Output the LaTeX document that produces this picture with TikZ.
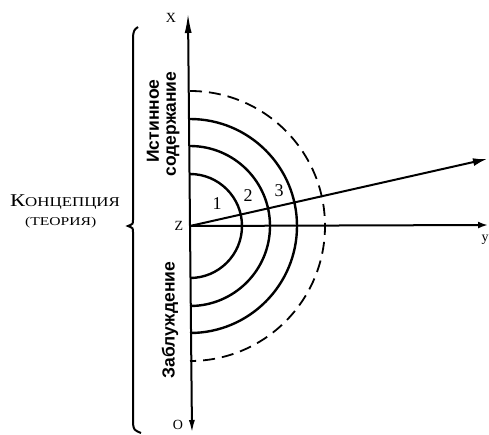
\documentclass[tikz,border=0pt]{standalone}
\usepackage{fontspec}
\setmainfont{Liberation Serif}
\newfontfamily\sansrot{Liberation Sans}
\usetikzlibrary{arrows.meta}
\begin{document}
\begin{tikzpicture}[x=1pt,y=1pt,
 axis/.style={line width=2pt},
 ring/.style={line width=2.4pt},
 dashring/.style={line width=1.8pt,dash pattern=on 12pt off 7pt},
 rotlabel/.style={rotate=90,font=\sansrot\bfseries\fontsize{17.5}{20}\selectfont,inner sep=0pt},
 axlabel/.style={font=\fontsize{14}{16}\selectfont,inner sep=0pt},
 numlabel/.style={font=\fontsize{18}{20}\selectfont,inner sep=0pt}]
\useasboundingbox (0,0) rectangle (489,434);
\coordinate (Z) at (190,208);
\coordinate (top) at (188,421);
\coordinate (bot) at (192,1);
\coordinate (yend) at (488,209);
\coordinate (oend) at (487,275);
\draw[axis,-{Latex[length=20pt,width=7pt]}] (Z) -- (top);
\draw[axis,-{Latex[length=13pt,width=6pt]}] (Z) -- (bot);
\draw[axis,-{Latex[length=10pt,width=7pt]}] (Z) -- (yend);
\draw[axis,-{Latex[length=14pt,width=8pt]}] (Z) -- (oend);
\foreach \r in {52,80,107} \draw[ring] (Z) ++(0,\r) arc[start angle=90,end angle=-90,radius=\r];
\draw[dashring] (Z) ++(0,135) arc[start angle=90,end angle=-90,radius=135];
\node[axlabel] (lx) at (171,416) {X};
\node[axlabel] (lz) at (179,208) {Z};
\node[axlabel] (lo) at (178,9) {O};
\node[axlabel] (ly) at (485,194) {y};
\node[numlabel] (n1) at (217,230) {1};
\node[numlabel] (n2) at (248,238) {2};
\node[numlabel] (n3) at (279,243) {3};
\node[rotlabel] (ist) at (153,313) {Истинное};
\node[rotlabel] (sod) at (173,310) {содержание};
\node[rotlabel] (zab) at (170,114) {Заблуждение};
\node[anchor=base west,inner sep=0pt] (konc) at (10,227) {\scalebox{1.25}[1]{{\fontsize{18}{20}\selectfont К}{\fontsize{13.5}{16}\selectfont ОНЦЕПЦИЯ}}};
\node[anchor=base west,inner sep=0pt] (teor) at (25,209) {\scalebox{1.3}[1]{\fontsize{12}{14}\selectfont (ТЕОРИЯ)}};
\draw[line width=2pt] (138,407) .. controls (134,404) .. (133,398) -- (133,214) .. controls (133,210) .. (128,208) .. controls (133,206) .. (133,202) -- (133,10) .. controls (134,4) .. (141,1);
\end{tikzpicture}
\end{document}
